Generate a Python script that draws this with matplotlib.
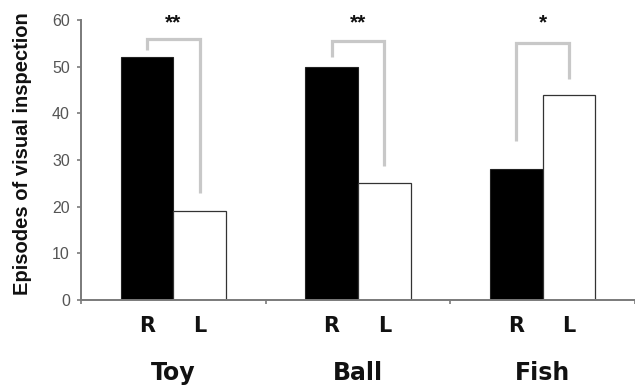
import matplotlib
matplotlib.use("Agg")
import matplotlib.pyplot as plt
import numpy as np

plt.rcParams['font.family'] = ['Liberation Sans', 'DejaVu Sans']

# Episode counts per object, for right (R) and left (L) eye use
objects = ["Toy", "Ball", "Fish"]
side_labels = ["R", "L"]
right_counts = [52, 50, 28]
left_counts = [19, 25, 44]

# Significance brackets: top level and lower ends of the two legs
stars = ["**", "**", "*"]
bracket_top = [56, 55.6, 55.1]
bracket_right_end = [53.6, 52.1, 34.1]
bracket_left_end = [23, 28.7, 47.3]

y_ticks = [0, 10, 20, 30, 40, 50, 60]

W, H = 635, 386
fig = plt.figure(figsize=(W / 100, H / 100), dpi=100)
ax = fig.add_axes([81 / W, (H - 300) / H, (W - 81) / W, 280 / H])

x = np.arange(len(objects))
bw = 0.286
axis_grey = "#7a7a7a"
label_font = ['DejaVu Sans']

ax.bar(x - bw / 2, right_counts, width=bw, color="black", edgecolor="#222222", linewidth=0.8, zorder=2)
ax.bar(x + bw / 2, left_counts, width=bw, color="white", edgecolor="#333333", linewidth=0.9, zorder=2)

for i in range(len(objects)):
    xl, xr = x[i] - bw / 2, x[i] + bw / 2
    ax.plot([xl, xl, xr, xr],
            [bracket_right_end[i], bracket_top[i], bracket_top[i], bracket_left_end[i]],
            color="#c8c8c8", lw=2.3, solid_joinstyle="miter", solid_capstyle="butt",
            zorder=1, clip_on=False)
    ax.text(x[i], 58.2, stars[i], ha="center", va="baseline", fontsize=15,
            fontweight="bold", color="#111111", clip_on=False)
    for j, lab in enumerate(side_labels):
        ax.text(x[i] + (j - 0.5) * bw, -6.8, lab, ha="center", va="baseline",
                fontsize=15, fontweight="bold", family=label_font,
                color="#111111", clip_on=False)
    ax.text(x[i], -17.1, objects[i], ha="center", va="baseline", fontsize=17,
            fontweight="bold", family=label_font, color="#111111", clip_on=False)

ax.set_xlim(-0.5, 2.5)
ax.set_ylim(0, 60)
ax.set_yticks(y_ticks)
ax.set_yticklabels([str(t) for t in y_ticks], fontsize=11.5, color="#555555")
ax.set_xticks([-0.5, 0.5, 1.5, 2.5])
ax.set_xticklabels([])
ax.tick_params(axis="both", direction="out", length=3, width=1.2, color=axis_grey, pad=5)

for side in ["top", "right"]:
    ax.spines[side].set_visible(False)
for side in ["left", "bottom"]:
    ax.spines[side].set_color(axis_grey)
    ax.spines[side].set_linewidth(1.4)

fig.text(23 / W, (H - 153.5) / H, "Episodes of visual inspection", rotation=90,
         ha="center", va="center", fontsize=14.5, fontweight="bold", color="#111111")

fig.savefig("out.png", dpi=100)
